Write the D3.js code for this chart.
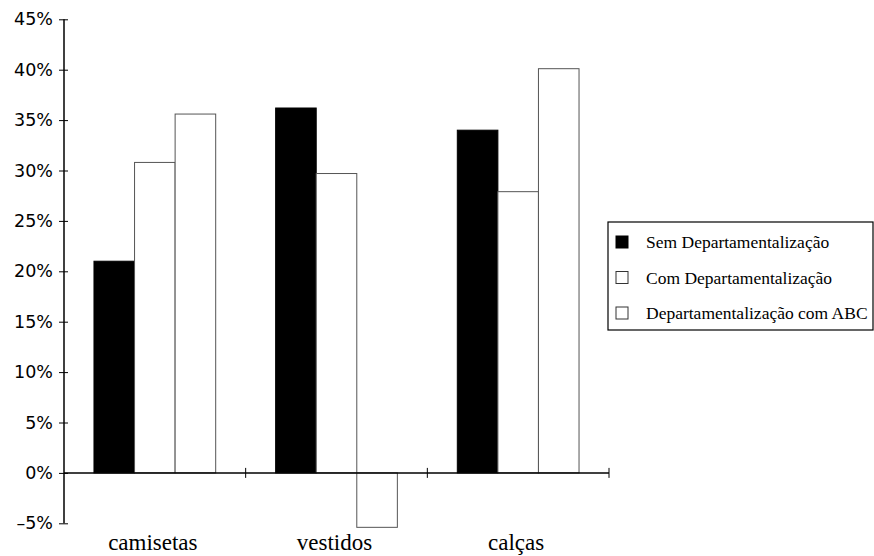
<!DOCTYPE html>
<html>
<head>
<meta charset="utf-8">
<script src="https://cdn.jsdelivr.net/npm/d3@7"></script>
<style>
  body { margin: 0; background: #fff; }
  svg { display: block; }
</style>
</head>
<body>
<svg id="chart"></svg>
<script>
const categories = ["camisetas", "vestidos", "calças"];
const seriesNames = ["Sem Departamentalização", "Com Departamentalização", "Departamentalização com ABC"];
const semDep = [21.0, 36.2, 34.0];
const comDep = [30.8, 29.7, 27.9];
const comABC = [35.6, -5.4, 40.1];
const yTicks = [-5, 0, 5, 10, 15, 20, 25, 30, 35, 40, 45];

const seriesValues = [semDep, comDep, comABC];
const fills = ["#000", "#fff", "#fff"];
const strokes = ["#000", "#555", "#555"];

const width = 874;
const height = 556;

const svg = d3.select("#chart")
  .attr("width", width)
  .attr("height", height);

const x0 = d3.scaleBand()
  .domain(categories)
  .range([64, 609])
  .padding(0);

const x1 = d3.scaleBand()
  .domain(d3.range(seriesNames.length))
  .range([x0.bandwidth() * 0.165, x0.bandwidth() * 0.835])
  .padding(0);

const y = d3.scaleLinear()
  .domain([-5, 45])
  .range([523.3, 19.3]);

// bars
const groups = svg.append("g")
  .selectAll("g")
  .data(categories)
  .enter()
  .append("g")
  .attr("transform", d => `translate(${x0(d)},0)`);

groups.selectAll("rect")
  .data((c, ci) => seriesValues.map((vals, si) => ({ si, v: vals[ci] })))
  .enter()
  .append("rect")
  .attr("x", d => x1(d.si))
  .attr("width", x1.bandwidth())
  .attr("y", d => y(Math.max(0, d.v)))
  .attr("height", d => Math.abs(y(d.v) - y(0)))
  .attr("fill", d => fills[d.si])
  .attr("stroke", d => strokes[d.si])
  .attr("stroke-width", 1);

// y axis
const yAxis = svg.append("g")
  .attr("transform", `translate(${x0.range()[0]},0)`)
  .call(d3.axisLeft(y)
    .tickValues(yTicks)
    .tickSize(5)
    .tickPadding(8)
    .tickFormat(d => (d < 0 ? "\u2013" + Math.abs(d) : d) + "%"));

yAxis.select(".domain").attr("stroke", "#000").attr("stroke-width", 1.5)
  .attr("d", `M0,${y(45)}V${y(-5)}`);
yAxis.selectAll(".tick line").attr("x1", -5).attr("x2", 4).attr("stroke", "#000");
yAxis.selectAll(".tick text")
  .attr("x", -11)
  .attr("font-family", "'DejaVu Sans', sans-serif")
  .attr("font-size", "17.5px")
  .attr("fill", "#000");

// x axis at 0
const xAxisG = svg.append("g")
  .attr("transform", `translate(0,${y(0)})`);

xAxisG.append("line")
  .attr("x1", x0.range()[0])
  .attr("x2", x0.range()[1])
  .attr("stroke", "#000")
  .attr("stroke-width", 1.5);

xAxisG.selectAll("line.tick")
  .data(categories)
  .enter()
  .append("line")
  .attr("class", "tick")
  .attr("x1", d => x0(d) + x0.bandwidth())
  .attr("x2", d => x0(d) + x0.bandwidth())
  .attr("y1", -5)
  .attr("y2", 5)
  .attr("stroke", "#000");

// category labels
svg.append("g")
  .selectAll("text")
  .data(categories)
  .enter()
  .append("text")
  .attr("x", d => x0(d) + x0.bandwidth() / 2 - 2)
  .attr("y", 550)
  .attr("text-anchor", "middle")
  .attr("font-family", "'Liberation Serif', serif")
  .attr("font-size", "23px")
  .attr("fill", "#000")
  .text(d => d);

// legend
const legend = svg.append("g").attr("transform", "translate(608,222)");

legend.append("rect")
  .attr("width", 265)
  .attr("height", 108)
  .attr("fill", "#fff")
  .attr("stroke", "#000")
  .attr("stroke-width", 1.2);

const items = legend.selectAll("g.item")
  .data(seriesNames)
  .enter()
  .append("g")
  .attr("class", "item")
  .attr("transform", (d, i) => `translate(0,${20 + i * 35.5})`);

items.append("rect")
  .attr("x", 8)
  .attr("y", -6)
  .attr("width", 12)
  .attr("height", 12)
  .attr("fill", (d, i) => fills[i])
  .attr("stroke", (d, i) => i === 0 ? "#000" : "#333")
  .attr("stroke-width", 1);

items.append("text")
  .attr("x", 38)
  .attr("y", 6)
  .attr("font-family", "'Liberation Serif', serif")
  .attr("font-size", "17.5px")
  .attr("fill", "#000")
  .text(d => d);
</script>
</body>
</html>
